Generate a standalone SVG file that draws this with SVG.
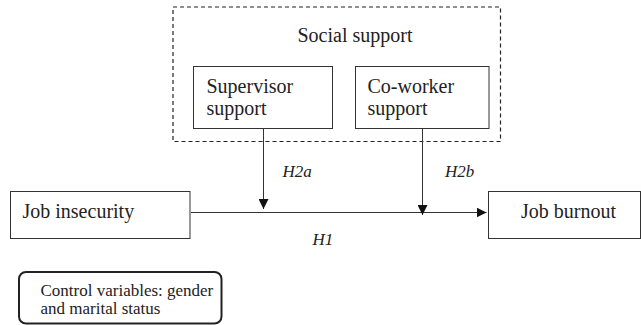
<svg xmlns="http://www.w3.org/2000/svg" width="641" height="325" viewBox="0 0 641 325">
<defs>
<style>
.box{fill:#fff;stroke:#333;stroke-width:1}
.t,.lab,.ctl{font-family:"Times New Roman",Liberation Serif,Times,serif;fill:#222}
.t{font-size:20px}
.lab{font-size:17px;font-style:italic}
.ctl{font-size:17px}
.ln{fill:none;stroke:#333;stroke-width:1}
</style>
<marker id="ah" viewBox="0 0 10 10" refX="10" refY="5" markerWidth="10" markerHeight="10" markerUnits="userSpaceOnUse" orient="auto">
<path d="M0,0 L10,5 L0,10 Z" fill="#111"/>
</marker>
</defs>
<rect width="641" height="325" fill="#fff"/>
<g id="social-support">
<rect x="173" y="7" width="327.5" height="134.5" fill="none" stroke="#222" stroke-width="1.2" stroke-dasharray="4 3"/>
<text class="t" x="355" y="42" text-anchor="middle">Social support</text>
</g>
<g id="supervisor-support">
<rect class="box" x="193.5" y="66.5" width="139" height="62"/>
<text class="t" x="206.5" y="93">Supervisor</text>
<text class="t" x="206.5" y="115">support</text>
</g>
<g id="coworker-support">
<rect class="box" x="355.5" y="66.5" width="133.5" height="62"/>
<text class="t" x="367.5" y="93">Co-worker</text>
<text class="t" x="367.5" y="115">support</text>
</g>
<g id="job-insecurity">
<rect class="box" x="10.5" y="191.5" width="179.5" height="47"/>
<text class="t" x="22.5" y="218">Job insecurity</text>
</g>
<g id="job-burnout">
<rect class="box" x="488.5" y="191.5" width="152" height="47"/>
<text class="t" x="568.5" y="218" text-anchor="middle">Job burnout</text>
</g>
<g id="control-variables">
<rect x="19" y="272" width="202.5" height="51.5" rx="7" fill="#fff" stroke="#222" stroke-width="2"/>
<text class="ctl" x="40.5" y="296">Control variables: gender</text>
<text class="ctl" x="40.5" y="313.5">and marital status</text>
</g>
<g id="connectors">
<line class="ln" x1="191" y1="212.5" x2="486.5" y2="212.5" marker-end="url(#ah)"/>
<line class="ln" x1="263.5" y1="128.5" x2="263.5" y2="209" marker-end="url(#ah)"/>
<line class="ln" x1="422.5" y1="128.5" x2="422.5" y2="215" marker-end="url(#ah)"/>
<text class="lab" x="282.5" y="176.5">H2a</text>
<text class="lab" x="445" y="176.5">H2b</text>
<text class="lab" x="312.5" y="245">H1</text>
</g>
</svg>
